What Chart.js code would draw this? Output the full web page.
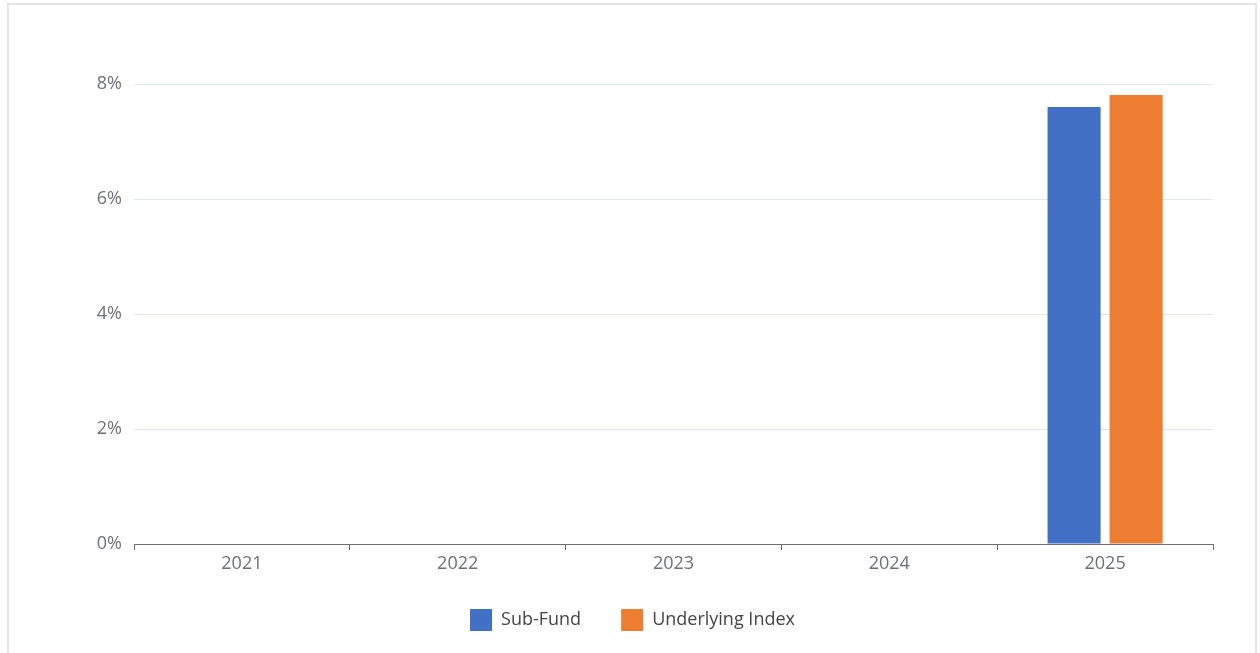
<!DOCTYPE html>
<html>
<head>
<meta charset="utf-8">
<script src="https://cdn.jsdelivr.net/npm/chart.js@4/dist/chart.umd.min.js"></script>
<style>
  html, body { margin: 0; padding: 0; background: #fff; }
  #frame { position: absolute; left: 7px; top: 3px; width: 1250px; height: 660px; border: 2px solid #e3e3e3; border-bottom: none; box-sizing: border-box; }
  #wrap { position: absolute; left: 0; top: 0; width: 1260px; height: 653px; }
</style>
</head>
<body>
<div id="frame"></div>
<div id="wrap"><canvas id="c" width="1260" height="653"></canvas></div>
<script>
const categories = ['2021', '2022', '2023', '2024', '2025'];
const subFund = [null, null, null, null, 7.60];
const underlyingIndex = [null, null, null, null, 7.81];
const yTicks = [0, 2, 4, 6, 8];

const FONT = '"Open Sans", "Noto Sans", sans-serif';

const legendShift = {
  id: 'legendShift',
  afterLayout(chart) {
    if (chart.legend) { chart.legend.left += 26; chart.legend.right += 26; }
  }
};

new Chart(document.getElementById('c'), {
  type: 'bar',
  data: {
    labels: categories,
    datasets: [
      { label: 'Sub-Fund', data: subFund, backgroundColor: '#4170c5', borderWidth: 0,
        categoryPercentage: 0.575, barPercentage: 0.855 },
      { label: 'Underlying Index', data: underlyingIndex, backgroundColor: '#ed7d31', borderWidth: 0,
        categoryPercentage: 0.575, barPercentage: 0.855 }
    ]
  },
  plugins: [legendShift],
  options: {
    responsive: false,
    animation: false,
    layout: { padding: { left: 0, right: 47, top: 84, bottom: 12 } },
    plugins: {
      tooltip: { enabled: false },
      legend: {
        position: 'bottom',
        labels: {
          boxWidth: 22, boxHeight: 22, padding: 40,
          color: '#444', font: { family: FONT, size: 18 }
        }
      }
    },
    scales: {
      x: {
        offset: true,
        grid: { display: true, drawOnChartArea: false, offset: true, tickLength: 6, color: '#6e7079' },
        border: { display: true, color: '#6e7079', width: 1 },
        ticks: { color: '#6e7079', font: { family: FONT, size: 18 }, padding: 3 },
        afterFit: (s) => { s.height = 25; }
      },
      y: {
        min: 0, max: 8,
        afterBuildTicks: (s) => { s.ticks = yTicks.map(v => ({ value: v })); },
        grid: { color: '#e0e6f1', drawTicks: false },
        border: { display: false },
        ticks: { color: '#6e7079', font: { family: FONT, size: 18 }, padding: 12,
          callback: (v) => v + '%' },
        afterFit: (s) => { s.width = 134; }
      }
    }
  }
});
</script>
</body>
</html>
